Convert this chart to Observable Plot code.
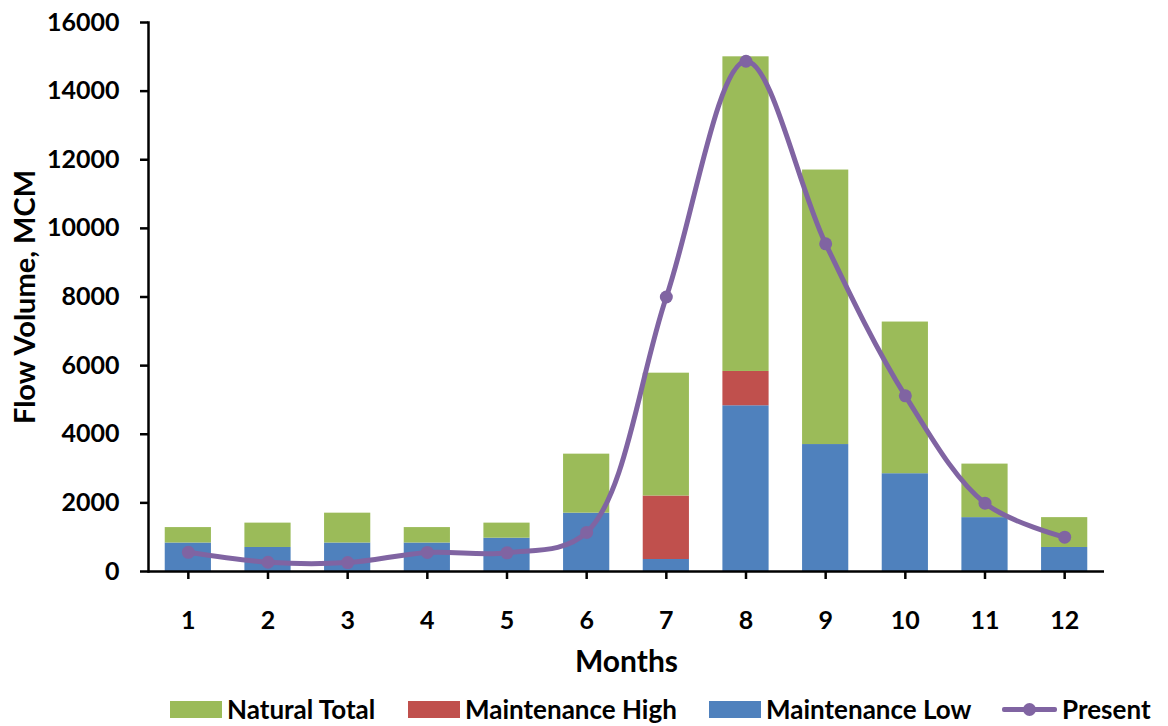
<!DOCTYPE html>
<html>
<head>
<meta charset="utf-8">
<script src="https://cdn.jsdelivr.net/npm/d3@7"></script>
<script src="https://cdn.jsdelivr.net/npm/@observablehq/plot@0.6"></script>
<style>
  html, body { margin: 0; padding: 0; background: #fff; }
  #chart svg { display: block; }
  #legend { position: relative; width: 1168px; height: 36px; font-family: Lato, "Open Sans", sans-serif; font-weight: bold; font-size: 26px; line-height: 30px; color: #000; }
  .item { position: absolute; top: 0; height: 38px; display: flex; align-items: center; white-space: nowrap; }
  .sw { width: 52px; height: 17px; margin-right: 5px; }
  .ln { position: relative; width: 55px; height: 17px; margin-right: 5px; }
  .ln::before { content: ""; position: absolute; left: 0; right: 0; top: 6px; height: 5px; background: #8064A2; border-radius: 2px; }
  .ln::after { content: ""; position: absolute; left: 21px; top: 2px; width: 13px; height: 13px; border-radius: 50%; background: #8064A2; }
</style>
</head>
<body>
<div id="chart"></div>
<div id="legend"></div>
<script>
const months = [1, 2, 3, 4, 5, 6, 7, 8, 9, 10, 11, 12];
const naturalTotal = [1280, 1410, 1700, 1280, 1410, 3420, 5780, 15000, 11700, 7270, 3130, 1570];
const maintenanceHigh = [830, 700, 830, 830, 970, 1700, 2200, 5830, 3700, 2850, 1570, 700];
const maintenanceLow = [830, 700, 830, 830, 970, 1700, 350, 4830, 3700, 2850, 1570, 700];
const present = [560, 270, 260, 555, 545, 1140, 8000, 14870, 9550, 5120, 1990, 1000];
const yTicks = [0, 2000, 4000, 6000, 8000, 10000, 12000, 14000, 16000];
const seriesNames = ["Natural Total", "Maintenance High", "Maintenance Low", "Present"];
const seriesColors = ["#9BBB59", "#C0504D", "#4F81BD", "#8064A2"];

const segments = [];
months.forEach((m, i) => {
  const lo = maintenanceLow[i];
  const hi = Math.max(maintenanceHigh[i], lo);
  segments.push({month: m, series: "Maintenance Low", y1: 0, y2: lo});
  segments.push({month: m, series: "Maintenance High", y1: lo, y2: hi});
  segments.push({month: m, series: "Natural Total", y1: hi, y2: naturalTotal[i]});
});
const presentData = months.map((m, i) => ({month: m, value: present[i]}));

const font = "Lato, 'Open Sans', sans-serif";
const chart = Plot.plot({
  width: 1168,
  height: 690,
  marginLeft: 148,
  marginRight: 64,
  marginTop: 22,
  marginBottom: 119,
  style: {fontFamily: font, fontSize: "25px", fontWeight: "bold", color: "#000", background: "#fff", overflow: "visible"},
  x: {type: "band", domain: months, paddingInner: 0.42, paddingOuter: 0.21, round: false},
  y: {domain: [0, 16000]},
  color: {domain: seriesNames, range: seriesColors},
  marks: [
    Plot.barY(segments, {x: "month", y1: "y1", y2: "y2", fill: "series", inset: 0}),
    Plot.line(presentData, {x: "month", y: "value", curve: "catmull-rom", stroke: seriesColors[3], strokeWidth: 5}),
    Plot.dot(presentData, {x: "month", y: "value", r: 6.5, fill: seriesColors[3], stroke: "none"}),
    Plot.axisY({ticks: yTicks, tickSize: 8, tickPadding: 21, label: null, strokeWidth: 2.5, tickFormat: d => String(d)}),
    Plot.axisX({tickSize: 8, tickPadding: 32, label: null, strokeWidth: 2.5}),
    Plot.ruleY([0], {stroke: "#000", strokeWidth: 2.5}),
    Plot.frame({anchor: "left", stroke: "#000", strokeWidth: 2.5}),
    Plot.text(["Months"], {text: d => d, frameAnchor: "bottom", dy: 91, lineAnchor: "middle", textAnchor: "middle", fontWeight: "bold", fontSize: 30}),
    Plot.text(["Flow Volume, MCM"], {text: d => d, frameAnchor: "left", dx: -123, rotate: -90, lineAnchor: "middle", textAnchor: "middle", fontWeight: "bold", fontSize: 29})
  ]
});
document.getElementById("chart").appendChild(chart);

const legendLeft = [170, 408, 709, 1002];
const legend = document.getElementById("legend");
seriesNames.forEach((name, i) => {
  const item = document.createElement("div");
  item.className = "item";
  item.style.left = legendLeft[i] + "px";
  const mark = document.createElement("span");
  if (name === "Present") {
    mark.className = "ln";
  } else {
    mark.className = "sw";
    mark.style.background = seriesColors[i];
  }
  const label = document.createElement("span");
  label.textContent = name;
  item.appendChild(mark);
  item.appendChild(label);
  legend.appendChild(item);
});
</script>
</body>
</html>
